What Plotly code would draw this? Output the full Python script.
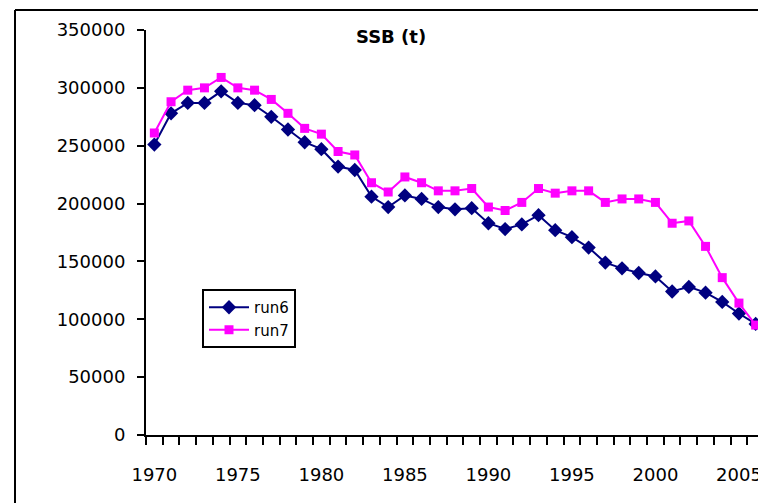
import plotly.graph_objects as go

years = list(range(1970, 2007))
run6 = [251000, 278000, 287000, 287000, 297000, 287000, 285000, 275000, 264000, 253000,
        247000, 232000, 229000, 206000, 197000, 207000, 204000, 197000, 195000, 196000,
        183000, 178000, 182000, 190000, 177000, 171000, 162000, 149000, 144000, 140000,
        137000, 124000, 128000, 123000, 115000, 105000, 96000]
run7 = [261000, 288000, 298000, 300000, 309000, 300000, 298000, 290000, 278000, 265000,
        260000, 245000, 242000, 218000, 210000, 223000, 218000, 211000, 211000, 213000,
        197000, 194000, 201000, 213000, 209000, 211000, 211000, 201000, 204000, 204000,
        201000, 183000, 185000, 163000, 136000, 114000, 95000]
x_labels = [1970, 1975, 1980, 1985, 1990, 1995, 2000, 2005]
y_ticks = [0, 50000, 100000, 150000, 200000, 250000, 300000, 350000]

FONT = "DejaVu Sans"
OFF = 8  # page body margin
W, H = 766 - OFF, 503 - OFF
PL, PR, PT, PB = 146, 764, 30, 435  # plot area in page pixels
L, R, T, B = PL - OFF, W - (PR - OFF), PT - OFF, H - (PB - OFF)
pw, ph = PR - PL, PB - PT

def px(xpix):
    return (xpix - PL) / pw

def py(ypix):
    return (PB - ypix) / ph

fig = go.Figure()
fig.add_trace(go.Scatter(
    x=years, y=run6, name="run6", mode="lines+markers",
    line=dict(color="#000080", width=2),
    marker=dict(symbol="diamond", size=11, color="#000080"),
    cliponaxis=False,
))
fig.add_trace(go.Scatter(
    x=years, y=run7, name="run7", mode="lines+markers",
    line=dict(color="#FF00FF", width=2),
    marker=dict(symbol="square", size=9, color="#FF00FF"),
    cliponaxis=False,
))

fig.update_layout(
    width=W, height=H,
    margin=dict(l=L, r=R, t=T, b=B, pad=0, autoexpand=False),
    paper_bgcolor="white", plot_bgcolor="white",
    font=dict(family=FONT, size=18, color="#000"),
    showlegend=True,
    legend=dict(
        x=px(202), y=py(289), xanchor="left", yanchor="top",
        bgcolor="white", bordercolor="#000", borderwidth=2,
        font=dict(family=FONT, size=15, color="#000"),
        itemwidth=40, tracegroupgap=2,
    ),
    xaxis=dict(
        range=[1969.5, 2006.5], automargin=False,
        tickmode="array", tickvals=x_labels, ticktext=[str(v) for v in x_labels],
        ticks="", ticklabelstandoff=22,
        minor=dict(tickmode="linear", tick0=1969.5, dtick=1, ticks="outside",
                   ticklen=8, tickwidth=2, tickcolor="#000", showgrid=False),
        showline=True, linecolor="#000", linewidth=2,
        showgrid=False, zeroline=False,
        tickfont=dict(family=FONT, size=18, color="#000"),
    ),
    yaxis=dict(
        range=[0, 350000], automargin=False,
        tickmode="array", tickvals=y_ticks, tickformat="d",
        ticks="outside", ticklen=7, tickwidth=2, tickcolor="#000",
        ticklabelstandoff=8,
        showline=True, linecolor="#000", linewidth=2,
        showgrid=False, zeroline=False,
        tickfont=dict(family=FONT, size=18, color="#000"),
    ),
)

fig.add_annotation(
    text="<b>SSB (t)</b>", xref="paper", yref="paper",
    x=px(391), y=py(37), xanchor="center", yanchor="middle",
    showarrow=False, font=dict(family=FONT, size=18, color="#000"),
)

# chart frame (left, top, right)
fig.add_shape(type="line", xref="paper", yref="paper",
              x0=px(15), x1=px(15), y0=py(10), y1=py(520),
              line=dict(color="#000", width=2))
fig.add_shape(type="line", xref="paper", yref="paper",
              x0=px(15), x1=px(770), y0=py(10), y1=py(10),
              line=dict(color="#000", width=2))
fig.add_shape(type="line", xref="paper", yref="paper",
              x0=px(764), x1=px(764), y0=py(10), y1=py(440),
              line=dict(color="#777", width=2))

fig.write_html("out.html")
